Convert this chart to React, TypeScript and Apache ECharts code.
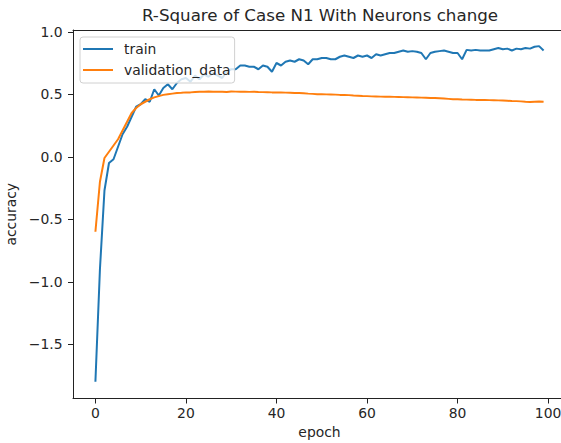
import React, { useEffect, useRef } from "react";
import * as echarts from "echarts";

const epochs: number[] = Array.from({ length: 100 }, (_, i) => i);

const trainValues: number[] = [
  -1.80, -0.90, -0.27, -0.05, -0.02, 0.08, 0.18, 0.24, 0.32, 0.40,
  0.42, 0.46, 0.44, 0.54, 0.49, 0.55, 0.58, 0.54, 0.59, 0.62,
  0.63, 0.60, 0.65, 0.62, 0.66, 0.64, 0.67, 0.65, 0.63, 0.68,
  0.70, 0.70, 0.73, 0.73, 0.72, 0.72, 0.70, 0.73, 0.72, 0.68,
  0.75, 0.73, 0.76, 0.77, 0.76, 0.78, 0.77, 0.74, 0.78, 0.78,
  0.79, 0.79, 0.78, 0.78, 0.80, 0.81, 0.80, 0.79, 0.81, 0.80,
  0.81, 0.79, 0.82, 0.81, 0.82, 0.83, 0.83, 0.84, 0.85, 0.84,
  0.845, 0.84, 0.83, 0.78, 0.83, 0.84, 0.845, 0.85, 0.84, 0.83,
  0.83, 0.78, 0.855, 0.85, 0.855, 0.85, 0.85, 0.85, 0.86, 0.87,
  0.86, 0.865, 0.85, 0.865, 0.86, 0.87, 0.865, 0.88, 0.885, 0.85,
];

const validationValues: number[] = [
  -0.60, -0.20, -0.01, 0.04, 0.09, 0.14, 0.21, 0.28, 0.35, 0.39,
  0.42, 0.44, 0.46, 0.475, 0.485, 0.495, 0.50, 0.505, 0.51, 0.512,
  0.515, 0.515, 0.518, 0.52, 0.52, 0.522, 0.52, 0.52, 0.52, 0.518,
  0.522, 0.521, 0.52, 0.52, 0.519, 0.52, 0.518, 0.517, 0.516, 0.515,
  0.515, 0.514, 0.513, 0.512, 0.51, 0.51, 0.508, 0.505, 0.503, 0.50,
  0.50, 0.499, 0.498, 0.497, 0.495, 0.495, 0.493, 0.49, 0.488, 0.486,
  0.485, 0.483, 0.482, 0.481, 0.48, 0.48, 0.479, 0.478, 0.477, 0.476,
  0.475, 0.474, 0.473, 0.472, 0.47, 0.47, 0.468, 0.466, 0.463, 0.46,
  0.46, 0.458, 0.457, 0.456, 0.455, 0.455, 0.454, 0.453, 0.452, 0.451,
  0.45, 0.448, 0.446, 0.445, 0.443, 0.44, 0.438, 0.44, 0.442, 0.44,
];

const xTicks: number[] = [0, 20, 40, 60, 80, 100];
const yTicks: number[] = [-1.5, -1.0, -0.5, 0.0, 0.5, 1.0];

const titleText = "R-Square of Case N1 With Neurons change";
const xName = "epoch";
const yName = "accuracy";
const seriesNames = ["train", "validation_data"];

const FONT = "DejaVu Sans";
const INK = "#262626";
const FS = 13.9;
const LINE_ICON = "path://M0,0 L30,0 L30,2 L0,2 Z";

export default function App() {
  const ref = useRef<HTMLDivElement>(null);

  useEffect(() => {
    document.body.style.margin = "0";
    if (!ref.current) return;
    const chart = echarts.init(ref.current, null, { renderer: "svg" });
    const fmtY = (v: number) => v.toFixed(1).replace("-", "\u2212");
    const spine = { show: true, onZero: false, lineStyle: { color: "#222", width: 1 } };
    chart.setOption({
      animation: false,
      backgroundColor: "#ffffff",
      textStyle: { fontFamily: FONT },
      title: {
        text: titleText,
        left: 320,
        textAlign: "center",
        top: 6.5,
        padding: 0,
        textStyle: { fontFamily: FONT, fontSize: 16.7, fontWeight: "normal", color: INK },
      },
      legend: {
        orient: "vertical",
        left: 80,
        top: 37,
        padding: [5, 4, 6, 3],
        itemWidth: 30,
        itemHeight: 14,
        itemGap: 7,
        backgroundColor: "rgba(255,255,255,0.8)",
        borderColor: "#d0d0d0",
        borderWidth: 1,
        borderRadius: 3,
        textStyle: { fontFamily: FONT, fontSize: FS, color: INK, padding: [0, 0, 0, 6] },
        data: seriesNames.map((n) => ({ name: n, icon: LINE_ICON })),
      },
      grid: {
        left: 73,
        right: -5,
        top: 30,
        bottom: 44.5,
        show: false,
        containLabel: false,
        outerBoundsMode: "none",
      },
      xAxis: [
        {
          type: "value",
          min: -4.95,
          max: 103.95,
          name: xName,
          nameLocation: "middle",
          nameGap: 26,
          nameTextStyle: { fontFamily: FONT, fontSize: FS, color: INK },
          axisLine: spine,
          axisTick: { show: true, inside: false, length: 5, lineStyle: { color: "#222" }, customValues: xTicks },
          axisLabel: { fontFamily: FONT, fontSize: FS, color: INK, margin: 7.5, customValues: xTicks },
          splitLine: { show: false },
        },
        {
          type: "value",
          position: "top",
          min: -4.95,
          max: 103.95,
          axisLine: spine,
          axisTick: { show: false },
          axisLabel: { show: false },
          splitLine: { show: false },
        },
      ],
      yAxis: {
        type: "value",
        min: -1.934,
        max: 1.014,
        name: yName,
        nameLocation: "middle",
        nameGap: 48,
        nameRotate: 90,
        nameTextStyle: { fontFamily: FONT, fontSize: FS, color: INK },
        axisLine: spine,
        axisTick: { show: true, inside: false, length: 5, lineStyle: { color: "#222" }, customValues: yTicks },
        axisLabel: { fontFamily: FONT, fontSize: FS, color: INK, margin: 10.5, customValues: yTicks, formatter: fmtY },
        splitLine: { show: false },
      },
      series: [
        {
          name: seriesNames[0],
          type: "line",
          xAxisIndex: 0,
          data: epochs.map((e, i) => [e, trainValues[i]]),
          symbol: "none",
          lineStyle: { color: "#1f77b4", width: 2 },
          itemStyle: { color: "#1f77b4" },
          z: 2,
        },
        {
          name: seriesNames[1],
          type: "line",
          xAxisIndex: 0,
          data: epochs.map((e, i) => [e, validationValues[i]]),
          symbol: "none",
          lineStyle: { color: "#ff7f0e", width: 2 },
          itemStyle: { color: "#ff7f0e" },
          z: 3,
        },
      ],
    });
    return () => chart.dispose();
  }, []);

  return <div ref={ref} style={{ width: 561, height: 443 }} />;
}
